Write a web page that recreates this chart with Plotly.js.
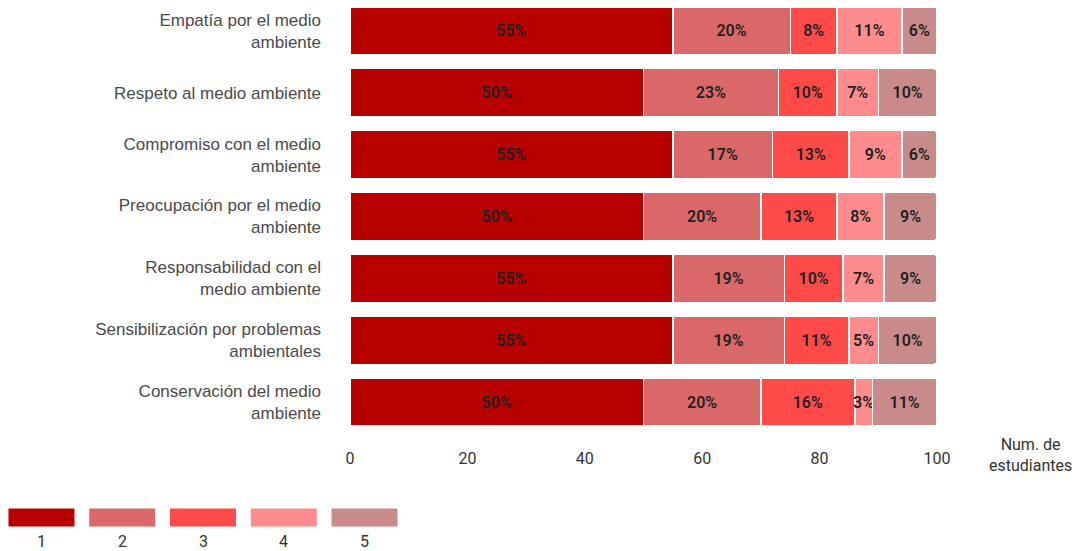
<!DOCTYPE html>
<html>
<head>
<meta charset="utf-8">
<script src="https://cdn.plot.ly/plotly-3.0.1.min.js"></script>
<style>html,body{margin:0;padding:0;background:#fff;}#chart{width:1077px;height:551px;}</style>
</head>
<body>
<div id="chart"></div>
<script>
const categories = [
  "Empatía por el medio<br>ambiente",
  "Respeto al medio ambiente",
  "Compromiso con el medio<br>ambiente",
  "Preocupación por el medio<br>ambiente",
  "Responsabilidad con el<br>medio ambiente",
  "Sensibilización por problemas<br>ambientales",
  "Conservación del medio<br>ambiente"
];
const seriesNames = ["1", "2", "3", "4", "5"];
const seriesColors = ["#B80000", "#DB6868", "#FF4A4A", "#FF8C8C", "#C98A8A"];
const s1 = [55, 50, 55, 50, 55, 55, 50];
const s2 = [20, 23, 17, 20, 19, 19, 20];
const s3 = [8, 10, 13, 13, 10, 11, 16];
const s4 = [11, 7, 9, 8, 7, 5, 3];
const s5 = [6, 10, 6, 9, 9, 10, 11];
const seriesValues = [s1, s2, s3, s4, s5];
const xTicks = [0, 20, 40, 60, 80, 100];
const xAxisTitle = "Num. de<br>estudiantes";

const W = 1077, H = 551;
const M = {l: 350, r: 140, t: 0, b: 118};
const PW = W - M.l - M.r, PH = H - M.t - M.b;
const px2x = p => (p - M.l) / PW;
const py2y = p => 1 - (p - M.t) / PH;

const traces = seriesValues.map((vals, i) => ({
  type: "bar",
  orientation: "h",
  name: seriesNames[i],
  y: categories,
  x: vals,
  width: 0.78,
  marker: {color: seriesColors[i], line: {color: "#ffffff", width: 1.5}},
  text: vals.map(v => v + "%"),
  textposition: "inside",
  insidetextanchor: "middle",
  textangle: 0,
  constraintext: "none",
  textfont: {family: "Roboto, Arial, sans-serif", size: 16, color: "#222222", weight: 600},
  hoverinfo: "x+y+name"
}));

const shapes = [];
const annotations = [];
seriesNames.forEach((n, i) => {
  const x0 = 8 + i * 80.75;
  shapes.push({
    type: "rect", xref: "paper", yref: "paper",
    x0: px2x(x0), x1: px2x(x0 + 67), y0: py2y(527), y1: py2y(508),
    fillcolor: seriesColors[i], line: {color: "#ffffff", width: 1}
  });
  annotations.push({
    xref: "paper", yref: "paper", x: px2x(x0 + 33.5), y: py2y(541),
    xanchor: "center", yanchor: "middle", showarrow: false, text: n,
    font: {family: "Roboto, Arial, sans-serif", size: 16, color: "#333333"}
  });
});
annotations.push({
  xref: "paper", yref: "paper", x: px2x(1030), y: py2y(455),
  xanchor: "center", yanchor: "middle", showarrow: false, text: xAxisTitle,
  font: {family: "Roboto, Arial, sans-serif", size: 16, color: "#333333"}
});

const layout = {
  width: W, height: H,
  margin: M,
  barmode: "stack",
  barcornerradius: 3,
  showlegend: false,
  paper_bgcolor: "#ffffff",
  plot_bgcolor: "#ffffff",
  font: {family: "Roboto, Arial, sans-serif", size: 15, color: "#333333"},
  xaxis: {
    range: [0, 100], tickvals: xTicks, ticktext: xTicks.map(String),
    showgrid: false, zeroline: false, showline: false,
    ticks: "", ticklabelstandoff: 14,
    tickfont: {size: 16, color: "#333333"}
  },
  yaxis: {
    type: "category", autorange: "reversed",
    showgrid: false, zeroline: false, showline: false,
    ticks: "", ticklabelstandoff: 28,
    tickfont: {family: "Liberation Sans, Arial, sans-serif", size: 17, color: "#4a4a4a"}
  },
  shapes: shapes,
  annotations: annotations
};

Plotly.newPlot("chart", traces, layout, {displayModeBar: false, staticPlot: true});
</script>
</body>
</html>
